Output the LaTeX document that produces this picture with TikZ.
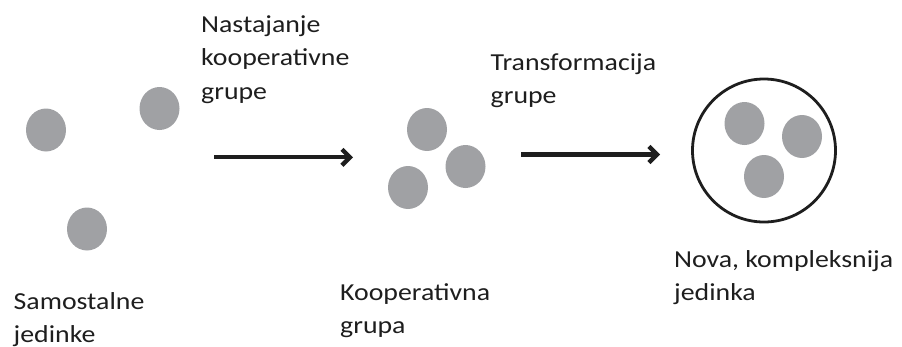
\documentclass[tikz,border=0pt]{standalone}
\usepackage{fontspec}
\setmainfont{Carlito}[FakeStretch=1.14]
\usetikzlibrary{shapes.geometric,arrows.meta}
\definecolor{dotgray}{RGB}{160,161,164}
\definecolor{inkc}{RGB}{30,30,30}
\tikzset{
  dot/.style={ellipse,fill=dotgray,draw=none,minimum width=40pt,minimum height=43pt,inner sep=0pt},
  lbl/.style={anchor=base west,align=left,inner sep=0pt,text=inkc,font=\fontsize{24.4}{33.5}\selectfont},
  flow/.style={line width=4.3pt,draw=inkc,-{Straight Barb[length=8pt,width=16pt]}},
  shell/.style={circle,draw=inkc,line width=2.8pt,minimum size=143pt,inner sep=0pt}
}
\begin{document}
\begin{tikzpicture}[x=1pt,y=-1pt]
\useasboundingbox (0,0) rectangle (902,346);
% solitary individuals
\node[dot] (s1) at (46,130) {};
\node[dot] (s2) at (159.5,108.5) {};
\node[dot] (s3) at (87,229) {};
% cooperative group
\node[dot] (c1) at (427,129.5) {};
\node[dot] (c2) at (465.5,166.5) {};
\node[dot] (c3) at (408,187.5) {};
% new complex individual
\node[shell] (big) at (764,150.5) {};
\node[dot] (n1) at (744.5,123.5) {};
\node[dot] (n2) at (802,136.5) {};
\node[dot] (n3) at (764,176.5) {};
% arrows
\coordinate (a1s) at (214,157.3);
\coordinate (a1e) at (353,157.3);
\coordinate (a2s) at (521,154.5);
\coordinate (a2e) at (660,154.5);
\draw[flow] (a1s) -- (a1e);
\draw[flow] (a2s) -- (a2e);
% labels (anchored at the baseline of the last line)
\node[lbl] (t1) at (201,99.3) {Nastajanje\\kooperativne\\grupe};
\node[lbl] (t2) at (490.5,103.5) {Transformacija\\grupe};
\node[lbl] (t3) at (13.5,342.8) {Samostalne\\jedinke};
\node[lbl] (t4) at (340,333.5) {Kooperativna\\grupa};
\node[lbl] (t5) at (674,300.5) {Nova, kompleksnija\\jedinka};
\end{tikzpicture}
\end{document}
